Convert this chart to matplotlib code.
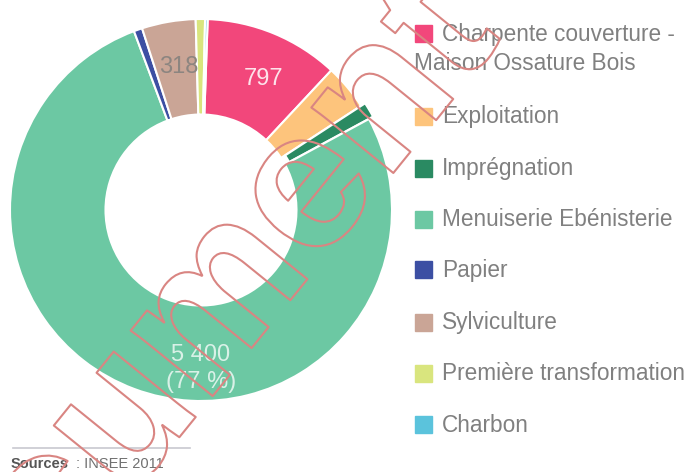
import matplotlib
matplotlib.use("Agg")
import numpy as np
import matplotlib.pyplot as plt
import matplotlib.patheffects as pe
from matplotlib.patches import Rectangle

# données (INSEE 2011)
categories = ["Charpente couverture -\nMaison Ossature Bois", "Exploitation", "Imprégnation",
              "Menuiserie Ebénisterie", "Papier", "Sylviculture",
              "Première transformation", "Charbon"]
values = [797, 270, 90, 5400, 50, 318, 55, 15]
colors = ["#f2477b", "#fdc47c", "#2a8a62", "#6cc8a3", "#3c4fa3", "#caa596", "#d9e57e", "#5bc3dc"]
explode = [0, 0, 0.025, 0, 0, 0, 0, 0]
shown = [0, 3, 5]  # parts with a value label
source = "INSEE 2011"

W, H = 688, 472
fig = plt.figure(figsize=(W / 100, H / 100), dpi=100)

# donut
cx, cy, r = 201, 210, 191
half = 200
pax = fig.add_axes([(cx - half) / W, (H - cy - half) / H, 2 * half / W, 2 * half / H])
wedges, _ = pax.pie(values, colors=colors, startangle=88, counterclock=False, radius=1,
                    explode=explode,
                    wedgeprops=dict(width=0.5, edgecolor="white", linewidth=1.5))
lim = half / r
pax.set_xlim(-lim, lim)
pax.set_ylim(-lim, lim)
pax.set_aspect("auto")
pax.axis("off")

total = sum(values)
for i in shown:
    w = wedges[i]
    v = values[i]
    txt = f"{v:,}".replace(",", " ")
    if i == 3:
        txt += f"\n({int(v / total * 100)} %)"
        x, y = 0, -0.83
        col = (1, 1, 1, 0.75)
    else:
        a = np.deg2rad((w.theta1 + w.theta2) / 2 - (3 if i == 0 else 1))
        x, y = 0.76 * np.cos(a), 0.76 * np.sin(a)
        col = (1, 1, 1, 0.85) if i == 0 else "#8c8580"
    pax.text(x, y, txt, ha="center", va="center", fontsize=17, color=col,
             family="Liberation Sans", linespacing=1.25)

# overlay en pixels : légende, source, filigrane
ox = fig.add_axes([0, 0, 1, 1])
ox.set_xlim(0, W)
ox.set_ylim(H, 0)
ox.axis("off")
ox.patch.set_alpha(0)

ys = [33, 116, 168, 219, 269, 322, 373, 424]
for lab, c, y in zip(categories, colors, ys):
    ox.add_patch(Rectangle((415, y - 8.5), 17, 17, color=c))
    lines = lab.split("\n")
    ox.text(442, y + 1, lines[0], va="center", ha="left", fontsize=16.3,
            color="#808080", family="Liberation Sans")
    if len(lines) > 1:
        ox.text(414, y + 30, lines[1], va="center", ha="left", fontsize=16.3,
                color="#808080", family="Liberation Sans")

ox.plot([13, 190], [448, 448], color="#c8c8d0", lw=1.2)
ox.text(11, 464, "Sources", fontsize=10.5, fontweight="bold", color="#555555",
        va="center", ha="left", family="Liberation Sans")
ox.text(76, 464, ": " + source, fontsize=10.5, color="#707070",
        va="center", ha="left", family="Liberation Sans")

# filigrane
ox.text(157, 383, "Document", fontsize=143, fontweight="bold", rotation=51,
        rotation_mode="anchor", ha="center", va="center", color="none",
        family="Liberation Sans",
        path_effects=[pe.withStroke(linewidth=1.5, foreground="#d98582")])

fig.savefig("out.png", dpi=100)
